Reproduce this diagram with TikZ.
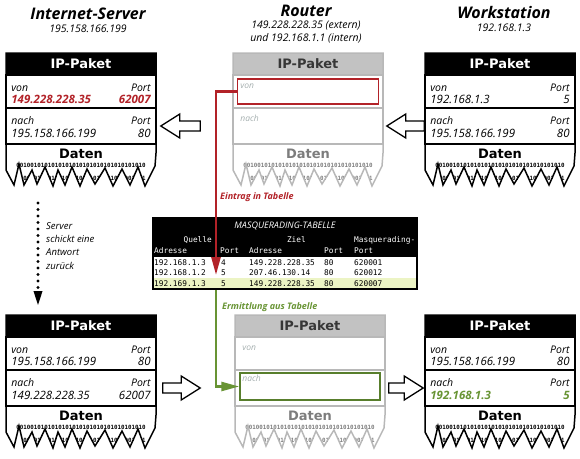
\documentclass[tikz,border=0pt]{standalone}
\usepackage{fontspec}
\setmainfont{Open Sans}
\setmonofont{DejaVu Sans Mono}
\newfontfamily\kopffont{DejaVu Sans}
\usetikzlibrary{arrows.meta,calc}
\definecolor{eintragrot}{RGB}{178,34,40}
\definecolor{ermittgruen}{RGB}{104,148,52}
\definecolor{routerlinie}{RGB}{184,184,184}
\definecolor{routerkopf}{RGB}{194,194,194}
\definecolor{routerschrift}{RGB}{55,55,55}
\definecolor{routerdaten}{RGB}{125,125,125}
\definecolor{routerfeldgrau}{RGB}{165,175,175}
\definecolor{zeilegelb}{RGB}{236,244,196}

\tikzset{
  kopf/.style={minimum width=150pt, minimum height=22pt, inner sep=0pt,
    font=\kopffont\bfseries\fontsize{13}{13}\selectfont},
  abschnitt/.style={minimum width=150pt, inner sep=0pt, line width=1.6pt},
  rahmen/.style={line width=1.5pt, line join=miter},
  daten/.style={inner sep=0pt, font=\kopffont\bfseries\fontsize{13}{13}\selectfont},
  binaer/.style={inner sep=0pt, font=\ttfamily\bfseries\fontsize{5.8}{5.8}\selectfont},
  feld/.style={inner sep=0pt, font=\itshape\fontsize{10.5}{10.5}\selectfont},
  wert/.style={inner sep=0pt, font=\itshape\fontsize{11.5}{11.5}\selectfont},
  routerfeld/.style={inner sep=0pt, anchor=base west, text=routerfeldgrau,
    font=\itshape\fontsize{8.5}{8.5}\selectfont},
  titel/.style={anchor=base, inner sep=0pt, font=\bfseries\itshape\fontsize{16}{16}\selectfont},
  untertitel/.style={anchor=base, inner sep=0pt, font=\itshape\fontsize{10.5}{10.5}\selectfont},
  hohlpfeil/.style={draw=black, fill=white, line width=1.3pt, line join=miter},
  eintragbox/.style={draw=eintragrot, line width=1.5pt, minimum width=141pt, minimum height=25pt, inner sep=0pt},
  ermittbox/.style={draw=ermittgruen!85!black, line width=1.5pt, minimum width=140pt, minimum height=27pt, inner sep=0pt},
  verbindung/.style={line width=2.6pt, -{Triangle[length=18pt,width=9pt]}},
  hinweis/.style={anchor=base west, inner sep=0pt, font=\bfseries\itshape\fontsize{9}{9}\selectfont},
  antwortpfeil/.style={line width=3.2pt, line cap=round, dash pattern=on 0pt off 6.5pt,
    -{Triangle[length=15pt,width=8pt]}},
  tabtext/.style={anchor=base west, inner sep=0pt, font=\ttfamily\fontsize{7.8}{7.8}\selectfont},
}

% Zacken am unteren Paketrand (x/y relativ zur Paketecke)
\def\zacken{8/132,13/111,18/132,26/117,31/131,39/114,47/133,52/117,59/132,66/114,74/133,81/116,89/131,99/115,107/133,116/116,124/132,132/114,139/133,149/113,150/100}

% #1 Name, #2/#3 Ecke, #4 Linie, #5 Kopf, #6 Kopfschrift, #7 Daten
\newcommand\ippaket[7]{%
  \begin{scope}[shift={(#2,#3)}]
    \node[kopf, fill=#5, text=#6] (#1-kopf) at (75,11) {IP-Paket};
    \node[abschnitt, draw=#4, minimum height=33pt] (#1-von) at (75,38.5) {};
    \node[abschnitt, draw=#4, minimum height=36pt] (#1-nach) at (75,73) {};
    \node[daten, text=#7] (#1-daten) at (75,101) {Daten};
    \begin{scope}
      \clip (0,91) -- (0,117) \foreach \zx/\zy in \zacken {-- (\zx,\zy)} -- (150,91) -- cycle;
      \node[binaer, text=#7] (#1-bin1) at (75,112) {0010010101010101010101010101010101010};
      \node[binaer, text=#7] (#1-bin2) at (75,125) {0100101010100101010101010101010001001};
    \end{scope}
    \draw[rahmen, draw=#4] (150,100) -- (150,0) -- (0,0) -- (0,117)
      \foreach \zx/\zy in \zacken {-- (\zx,\zy)};
  \end{scope}}

% #1 Name, #2/#3 von Adresse/Port, #4/#5 nach Adresse/Port
\newcommand\paketfelder[5]{%
  \node[feld, anchor=base west] (#1-vl) at ([shift={(6,17)}]#1-von.north west) {von};
  \node[feld, anchor=base east] (#1-vpl) at ([shift={(-6,17)}]#1-von.north east) {Port};
  \node[wert, anchor=base west] (#1-va) at ([shift={(6,29.5)}]#1-von.north west) {#2};
  \node[wert, anchor=base east] (#1-vp) at ([shift={(-6,29.5)}]#1-von.north east) {#3};
  \node[feld, anchor=base west] (#1-nl) at ([shift={(6,17)}]#1-nach.north west) {nach};
  \node[feld, anchor=base east] (#1-npl) at ([shift={(-6,17)}]#1-nach.north east) {Port};
  \node[wert, anchor=base west] (#1-na) at ([shift={(6,30)}]#1-nach.north west) {#4};
  \node[wert, anchor=base east] (#1-np) at ([shift={(-6,30)}]#1-nach.north east) {#5};}

\newcommand\rotwert[1]{\textcolor{eintragrot}{\bfseries #1}}
\newcommand\gruenwert[1]{\textcolor{ermittgruen}{\bfseries #1}}

% Blockpfeil von #1 (Ende) nach #2 (Spitze)
\newcommand\hohlpfeil[2]{%
  \draw[hohlpfeil] let \p1=(#1), \p2=(#2), \n1={\x2>\x1}, \n2={\x2-19pt*(2*\n1-1)} in
    (\x1,\y1+5pt) -- (\n2,\y1+5pt) -- (\n2,\y1+12pt) -- (\x2,\y1)
    -- (\n2,\y1-12pt) -- (\n2,\y1-5pt) -- (\x1,\y1-5pt) -- cycle;}

\begin{document}
\begin{tikzpicture}[x=1pt,y=-1pt]
  \useasboundingbox (0,0) rectangle (580,458);

  % Ueberschriften
  \node[titel] (srv-titel) at (88,19) {Internet-Server};
  \node[untertitel] (srv-ip) at (88,32) {195.158.166.199};
  \node[titel] (rt-titel) at (306,16) {Router};
  \node[untertitel] (rt-ext) at (306,28.5) {149.228.228.35 (extern)};
  \node[untertitel] (rt-int) at (306,41.5) {und 192.168.1.1 (intern)};
  \node[titel] (ws-titel) at (504,18) {Workstation};
  \node[untertitel] (ws-ip) at (504,31) {192.168.1.3};

  % Pakete
  \ippaket{srv1}{6}{53}{black}{black}{white}{black}
  \ippaket{rt1}{233}{53}{routerlinie}{routerkopf}{routerschrift}{routerdaten}
  \ippaket{ws1}{425}{53}{black}{black}{white}{black}
  \ippaket{srv2}{6}{315}{black}{black}{white}{black}
  \ippaket{rt2}{235}{315}{routerlinie}{routerkopf}{routerschrift}{routerdaten}
  \ippaket{ws2}{425}{315}{black}{black}{white}{black}

  \paketfelder{srv1}{\rotwert{149.228.228.35}}{\rotwert{62007}}{195.158.166.199}{80}
  \paketfelder{ws1}{192.168.1.3}{5}{195.158.166.199}{80}
  \paketfelder{srv2}{195.158.166.199}{80}{149.228.228.35}{62007}
  \paketfelder{ws2}{195.158.166.199}{80}{\gruenwert{192.168.1.3}}{\gruenwert{5}}

  \node[routerfeld] (rt1-vl) at ([shift={(8,14)}]rt1-von.north west) {von};
  \node[routerfeld] (rt1-nl) at ([shift={(8,14)}]rt1-nach.north west) {nach};
  \node[routerfeld] (rt2-vl) at ([shift={(8,14)}]rt2-von.north west) {von};
  \node[routerfeld] (rt2-nl) at ([shift={(8,12)}]rt2-nach.north west) {nach};
  \node[eintragbox] (rt1-box) at (rt1-von) {};
  \node[ermittbox] (rt2-box) at ([shift={(0,-1.5)}]rt2-nach) {};

  % Blockpfeile
  \hohlpfeil{ws1-nach.west}{$(rt1-nach.east)+(3,0)$}
  \hohlpfeil{$(rt1-nach.west)+(-32,0)$}{$(srv1-nach.east)+(4,0)$}
  \hohlpfeil{$(srv2-nach.east)+(6,0)$}{$(rt2-nach.west)+(-34,0)$}
  \hohlpfeil{$(rt2-nach.east)+(3,0)$}{$(ws2-nach.west)+(-1,0)$}

  % Antwort des Servers
  \coordinate (antwort-a) at (38,203);
  \coordinate (antwort-b) at (38,306);
  \draw[antwortpfeil] (antwort-a) -- (antwort-b);
  \node[anchor=base west, inner sep=0pt, align=left, font=\itshape\fontsize{9.5}{13.3}\selectfont]
    (antwort-t) at (46,269) {Server\\schickt eine\\Antwort\\zurück};

  % Masquerading-Tabelle
  \node[fill=black, minimum width=266pt, minimum height=73pt, inner sep=0pt, anchor=north west]
    (masq) at (152,217) {};
  \fill[white] (153.5,256.5) rectangle (415.5,287.5);
  \fill[zeilegelb] (153.5,277.5) rectangle (415.5,287.5);
  \node[anchor=base, inner sep=0pt, text=white, font=\itshape\fontsize{9}{9}\selectfont]
    (masq-titel) at (285,228) {MASQUERADING-TABELLE};
  \node[tabtext, anchor=base east, text=white] (k-quelle) at (212,242) {Quelle};
  \node[tabtext, anchor=base east, text=white] (k-ziel) at (306,242) {Ziel};
  \node[tabtext, text=white] (k-masq) at (354,242) {Masquerading-};
  \foreach \sx/\st [count=\i] in {154/Adresse,220/Port,249/Adresse,324/Port,354/Port}
    \node[tabtext, text=white] (k2-\i) at (\sx,253) {\st};
  \foreach \a/\b/\c/\d/\e [count=\i] in {192.168.1.3/4/149.228.228.35/80/620001,
      192.168.1.2/5/207.46.130.14/80/620012, 192.169.1.3/5/149.228.228.35/80/620007} {
    \node[tabtext] (z\i-a) at (154,{254.5+10.5*\i}) {\a};
    \node[tabtext] (z\i-b) at (221,{254.5+10.5*\i}) {\b};
    \node[tabtext] (z\i-c) at (249,{254.5+10.5*\i}) {\c};
    \node[tabtext] (z\i-d) at (324,{254.5+10.5*\i}) {\d};
    \node[tabtext] (z\i-e) at (354,{254.5+10.5*\i}) {\e};
  }

  % Eintrag und Ermittlung
  \coordinate (eintrag) at (216,275);
  \draw[verbindung, eintragrot] (rt1-box.west) -| (eintrag);
  \draw[verbindung, ermittgruen] (masq.south -| eintrag) |- (rt2-box.west);
  \node[hinweis, text=eintragrot] (eintrag-t) at (220,199) {Eintrag in Tabelle};
  \node[hinweis, text=ermittgruen] (ermitt-t) at (222,309) {Ermittlung aus Tabelle};
\end{tikzpicture}
\end{document}
